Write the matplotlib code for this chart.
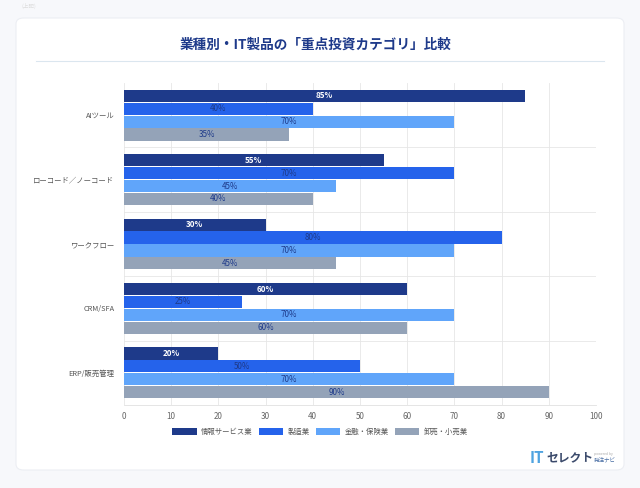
import matplotlib.pyplot as plt
import numpy as np
from matplotlib.patches import FancyBboxPatch

plt.rcParams['font.family'] = ['Noto Sans CJK JP', 'DejaVu Sans']

categories = ['AIツール', 'ローコード／ノーコード', 'ワークフロー', 'CRM/SFA', 'ERP/販売管理']
series = ['情報サービス業', '製造業', '金融・保険業', '卸売・小売業']
values = [
    [85, 55, 30, 60, 20],
    [40, 70, 80, 25, 50],
    [70, 45, 70, 70, 70],
    [35, 40, 45, 60, 90],
]
colors = ['#1e3a8a', '#2563eb', '#60a5fa', '#94a3b8']
ticks = [0, 10, 20, 30, 40, 50, 60, 70, 80, 90, 100]

fig = plt.figure(figsize=(6.4, 4.88), dpi=100)
fig.patch.set_facecolor('#f7f8fb')

# card behind everything
card = FancyBboxPatch((16 / 640, 18 / 488), 608 / 640, 452 / 488,
                      boxstyle='round,pad=0,rounding_size=0.012',
                      transform=fig.transFigure, facecolor='white',
                      edgecolor='#eceef3', linewidth=0.8, zorder=-10)
fig.patches.append(card)

fig.text(0.5 - 4 / 640, 1 - 45 / 488, '業種別・IT製品の「重点投資カテゴリ」比較', ha='center', va='center',
         fontsize=9.8, fontweight='bold', color='#1e3a8a')
fig.add_artist(plt.Line2D([36 / 640, 604 / 640], [1 - 61 / 488, 1 - 61 / 488],
                          transform=fig.transFigure, color='#dbe6ef', linewidth=0.8))
fig.text(22 / 640, 1 - 6 / 488, '(上記)', fontsize=4, color='#dddddd', va='center')

ax = fig.add_axes([124 / 640, 1 - 405 / 488, 472 / 640, 322 / 488])
ax.set_facecolor('none')
ax.set_zorder(1)

y = np.arange(len(categories))
h = 0.19
offsets = [-1.5, -0.5, 0.5, 1.5]
for i, s in enumerate(series):
    ys = y + offsets[i] * (h + 0.01)
    bars = ax.barh(ys, values[i], height=h, color=colors[i], label=s, zorder=2)
    for b, v in zip(bars, values[i]):
        if i == 0:
            ax.text(v / 2, b.get_y() + h / 2, f'{v}%', ha='center', va='center',
                    fontsize=5.8, color='white', fontweight='bold', zorder=3)
        else:
            ax.text(v / 2, b.get_y() + h / 2, f'{v}%', ha='center', va='center',
                    fontsize=5.8, color='#1e3a8a', zorder=3)

ax.set_xlim(0, 100)
ax.set_ylim(len(categories) - 0.5, -0.5)
ax.set_xticks(ticks)
ax.set_xticklabels([str(t) for t in ticks], fontsize=5.8, color='#666666')
ax.set_yticks(y)
ax.set_yticklabels(categories, fontsize=5.3, color='#555555')
ax.tick_params(axis='both', length=0, pad=7)
ax.tick_params(axis='x', pad=5)
ax.grid(axis='x', color='#e6e6e6', linewidth=0.6, zorder=0)
for yy in np.arange(0.5, len(categories) - 0.5, 1):
    ax.axhline(yy, color='#e6e6e6', linewidth=0.6, zorder=0)
for sp in ['top', 'right', 'left']:
    ax.spines[sp].set_visible(False)
ax.spines['bottom'].set_color('#e0e0e0')
ax.spines['bottom'].set_linewidth(0.6)

handles, labels = ax.get_legend_handles_labels()
fig.legend(handles, labels, loc='center', bbox_to_anchor=(0.5, 1 - 432 / 488), ncol=4,
           frameon=False, fontsize=5.3, handlelength=3.3, handleheight=1.1,
           columnspacing=0.9, handletextpad=0.55, labelcolor='#555555')

# logo
fig.text(530 / 640, 1 - 458 / 488, 'IT', fontsize=11, fontweight='bold', color='#4fa3e0',
         va='center', ha='left')
fig.text(546 / 640, 1 - 458 / 488, 'セレクト', fontsize=8.5, fontweight='bold', color='#3b4a6b',
         va='center', ha='left')
fig.text(594 / 640, 1 - 454 / 488, 'powered by', fontsize=2.5, color='#aaaaaa', va='center')
fig.text(594 / 640, 1 - 461 / 488, '発注ナビ', fontsize=4, color='#4a6fa5', va='center')

fig.savefig('out.png', dpi=100, facecolor=fig.get_facecolor())
